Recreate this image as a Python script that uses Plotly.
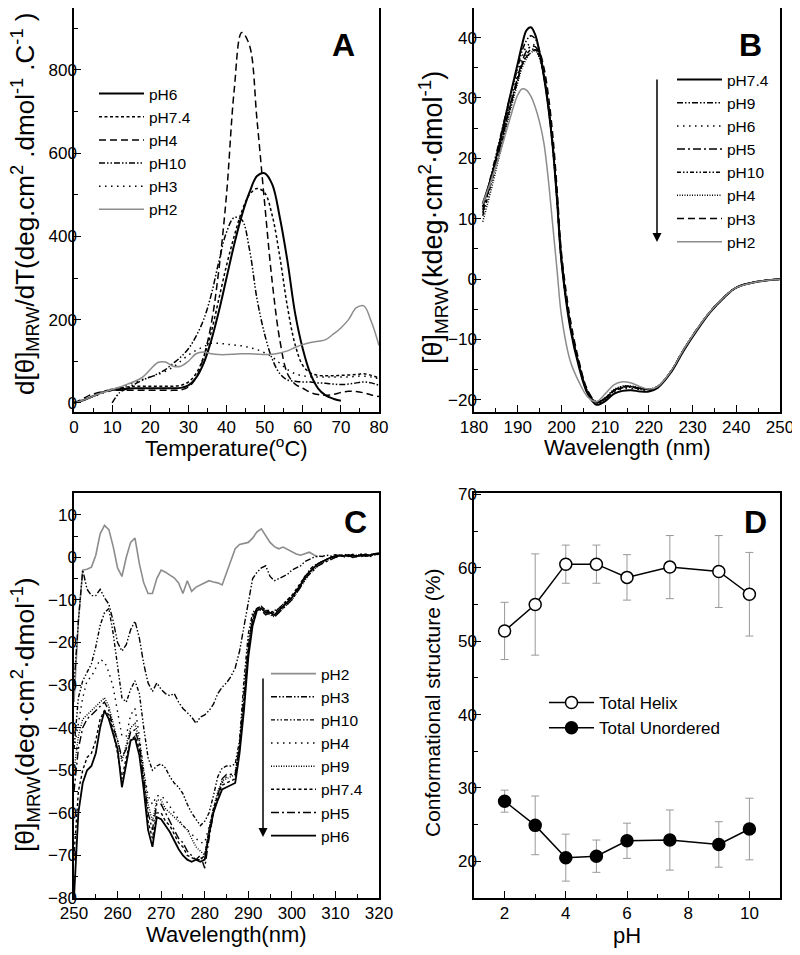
import plotly.graph_objects as go

FONT = "Liberation Sans, Arial, Helvetica, sans-serif"
BLACK = "#000000"
GRAY = "#8c8c8c"
# The page body adds an 8px margin; the figure is sized/positioned to compensate.
OFF = 8
W, H = 800 - OFF, 955 - OFF

# ---------------- Panel A data ----------------
temp_A = [0, 2, 4, 6, 8, 10, 12, 14, 16, 18, 20, 22, 24, 26, 28, 30, 32, 34, 36, 38,
          40, 42, 44, 46, 48, 50, 52, 54, 56, 58, 60, 62, 64, 66, 68, 70, 72, 74, 76, 78, 80]
A_pH6 = [0, 5, 12, 20, 27, 31, 33, 34, 35, 35, 35, 35, 35, 35, 36, 42, 60, 95, 150, 220,
         300, 380, 450, 505, 545, 552, 525, 445, 340, 215, 130, 70, 35, 18, 10, 5,
         None, None, None, None, None]
A_pH74 = [0, 5, 12, 20, 28, 33, 36, 38, 40, 40, 40, 40, 40, 40, 42, 50, 70, 110, 170, 250,
          330, 400, 460, 500, 515, 505, 450, 350, 230, 140, 90, 72, 66, 65, 65, 66, 67, 68, 70, 66, 60]
A_pH4 = [0, 8, 18, 24, 28, 30, 30, 30, 30, 30, 30, 30, 30, 30, 31, 38, 60, 110, 190, 320,
         500, 750, 890, 860, 680, 480, 290, 150, 70, 45, 35, 25, 20, 18, 20, 25, 28, 27, 24, 19, 15]
A_pH10 = [None, None, None, None, None, 0, 25, 35, 45, 55, 62, 70, 80, 95, 110, 130, 160, 200, 260, 340,
          410, 445, 440, 370, 250, 165, 105, 70, 55, 52, 50, 50, 48, 47, 45, 44, 45, 48, 50, 48, 42]
A_pH3 = [0, 5, 12, 18, 25, 30, 36, 42, 50, 56, 62, 68, 76, 86, 100, 115, 126, 135, 143, 143,
         141, 139, 137, 133, 128, 120, 110, 95, 80, 70, 65, 63, 62, 62, 62, 62, 62, 64, 64, 62, 58]
A_pH2 = [0, 5, 12, 20, 26, 32, 38, 45, 52, 62, 80, 97, 98, 88, 88, 100, 118, 122, 118, 116,
         116, 117, 118, 118, 117, 116, 117, 120, 125, 133, 140, 145, 148, 152, 165, 180, 200, 228, 233, 195, 138]

# ---------------- Panel B data (kdeg) ----------------
wl_B = [182, 184, 186, 188, 190, 191, 192, 193, 194, 195, 196, 197, 198, 199, 200, 202, 204, 206,
        208, 210, 212, 214, 216, 218, 220, 222, 225, 228, 231, 234, 237, 240, 245, 250]
B_pH74 = [12.5, 17, 23, 29.5, 35.7, 38.8, 41.2, 41.7, 40.5, 37.5, 33.5, 28.5, 22, 13, 3, -8, -14.5, -19,
          -20.8, -20.2, -19, -18.5, -18.4, -18.6, -18.6, -18, -15.5, -11.8, -8.5, -5.5, -3.2, -1.4, -0.4, 0]
B_pH9 = [11.5, 17.5, 23.5, 29.5, 35, 37.8, 39.5, 40.3, 39.8, 37.8, 34, 29, 22.5, 13.5, 3.5, -7.5, -14, -18.7,
         -20.5, -19.8, -18.6, -18, -17.9, -18.2, -18.3, -17.8, -15.3, -11.6, -8.3, -5.4, -3.1, -1.4, -0.4, 0]
B_pH6 = [12, 17, 22.5, 28.5, 34, 36.8, 38.5, 39, 38.6, 37, 33.5, 28.5, 22, 13, 3, -7.8, -14.2, -18.8,
         -20.6, -19.9, -18.8, -18.2, -18.1, -18.3, -18.4, -17.9, -15.4, -11.7, -8.4, -5.5, -3.2, -1.4, -0.4, 0]
B_pH5 = [11, 16.5, 22, 28, 33.5, 36, 37.8, 38.5, 38.5, 37.2, 34, 29, 22.5, 13.5, 3.5, -7.5, -14, -18.6,
         -20.4, -19.7, -18.4, -17.8, -17.8, -18.1, -18.2, -17.8, -15.3, -11.6, -8.3, -5.4, -3.1, -1.4, -0.4, 0]
B_pH10 = [10.5, 16, 21.5, 27.5, 33, 35.5, 37.2, 38, 38, 36.8, 33.5, 28.5, 22, 13, 3, -7.7, -14.1, -18.7,
          -20.4, -19.8, -18.5, -17.9, -17.8, -18.1, -18.2, -17.8, -15.4, -11.7, -8.4, -5.5, -3.2, -1.4, -0.4, 0]
B_pH4 = [9.5, 15, 21, 27, 32.5, 35, 36.5, 37.5, 37.8, 36.5, 33.5, 28.5, 22, 13, 3, -7.6, -14, -18.6,
         -20.3, -19.6, -18.3, -17.7, -17.7, -18, -18.2, -17.8, -15.3, -11.6, -8.3, -5.4, -3.1, -1.4, -0.4, 0]
B_pH3 = [12, 17, 22.5, 28, 33, 35.5, 36.8, 37.5, 38, 37.5, 35, 30.5, 24, 15, 4.5, -6.5, -13.5, -18.4,
         -20.3, -19.7, -18.4, -17.8, -17.8, -18.1, -18.2, -17.8, -15.4, -11.6, -8.3, -5.4, -3.1, -1.4, -0.4, 0]
B_pH2 = [12.5, 16.5, 21, 26, 30.5, 31.5, 31.3, 30.3, 28.5, 26, 22.5, 16.5, 9, 1.5, -6, -13.5, -17, -19.5,
         -20.3, -19, -17.5, -17, -17.2, -17.8, -18.2, -17.8, -15.3, -11.6, -8.3, -5.4, -3.1, -1.4, -0.4, 0]

# ---------------- Panel C data (1 nm steps, 250..320) ----------------
wl_C = list(range(250, 321))
C_pH2 = [-34, -15, -3, -2.8, -2.3, 0.5, 5.5, 7.5, 6.5, 2.5,
         -2.5, -4.5, 0, 3.5, 4.5, -1.5, -6, -8.5, -8.5, -5,
         -3, -3.5, -4.2, -4.8, -6, -8.5, -5.5, -8, -7, -6.5,
         -6, -5.5, -5.8, -6, -6.5, -3.5, -0.8, 2, 3, 3.2,
         3.5, 4.5, 6, 6.7, 5, 3.5, 2.5, 2, 2.4, 1.8,
         1.2, 0.8, 0.5, 0.8, 1.2, 0.6, 0.1, None, None, None,
         None, None, None, None, None, None, None, None, None, None, None]
C_pH3 = [-30, -15, -3, -7.5, -9, -9, -7.5, -9.5, -11, -15,
         -20, -22, -20.5, -17, -15, -19, -25, -29.5, -31.5, -29.5,
         -31, -32, -32.5, -32, -34, -35.5, -36.5, -37.5, -39, -37.5,
         -37, -36, -34.5, -32, -30.5, -29.5, -28, -26, -22, -16,
         -10, -5, -3.5, -2.5, -2, -4.5, -5.5, -5, -4.5, -4,
         -3, -2.5, -2, -1, -0.5, 0, 0.3, 0.2, 0.5, 0.3,
         0.6, 0.2, 0.5, 0.4, 0.6, 0.3, 0.5, 0.7, 0.4, 0.6, 0.8]
C_pH10 = [-45, -33, -29, -27, -25, -21, -16, -13, -12, -18,
          -26, -33, -34, -31, -29, -32, -40, -47, -50, -49,
          -48.5, -49.5, -51.5, -53, -54, -55.5, -58, -60, -61.5, -63,
          -62, -60, -56, -51.5, -49.5, -49, -49, -48.5, -43, -29,
          -18, -13, -12, -11.5, -12.5, -13, -12.5, -12, -11, -10,
          -9, -8, -6.5, -5, -3, -2, -1.5, -1, -0.5, -0.2,
          0, 0.4, 0.2, 0.6, 0.4, 0.3, 0.7, 0.5, 0.3, 0.8, 0.6]
C_pH4 = [-45, -39, -33, -29, -28, -26, -24, -24.5, -27, -30.5,
         -36, -42, -42, -37, -35.5, -42, -50, -56, -58, -56,
         -56, -57, -58.5, -60, -61.5, -63, -64, -65, -66, -67,
         -67, -63, -59, -55.5, -53, -51.5, -51, -50.5, -44, -32,
         -20, -14, -12, -12, -12.5, -13, -13, -12.5, -11.5, -10.5,
         -9.5, -8, -6.5, -5, -3.5, -2.5, -1.5, -1, -0.5, 0,
         0.3, 0.1, 0.5, 0.3, 0.6, 0.2, 0.5, 0.4, 0.8, 0.5, 1]
C_pH9 = [-50, -42, -38, -37, -36, -35, -34, -33, -35, -39,
         -43, -48, -44, -40, -39, -43, -50, -58, -62, -57,
         -57, -59, -60, -61, -62, -63, -64, -66, -68, -69,
         -70, -64, -59, -55, -52.5, -52, -51.5, -51, -44, -34,
         -22, -15, -12, -12, -13, -13.5, -14, -13, -12, -11,
         -10, -8.5, -7, -5.5, -4, -3, -2, -1.3, -0.8, -0.3,
         0.2, 0.4, 0.1, 0.6, 0.3, 0.5, 0.8, 0.2, 0.5, 0.7, 1]
C_pH74 = [-70, -55, -50, -47, -46, -43, -38, -36, -37, -41,
          -46, -52, -47, -43, -42, -45, -53, -62, -66, -60,
          -60, -62, -63, -65, -67, -68, -70, -70.5, -71, -71,
          -70, -64, -59, -56, -53.5, -53, -52.5, -52, -45, -35,
          -22, -15, -12, -11.5, -12.5, -12.5, -13, -12, -11, -10,
          -9, -7.5, -6, -4.5, -3.5, -2.5, -1.5, -1, -0.5, 0,
          0.5, 0.2, 0.6, 0.3, 0.7, 0.4, 0.2, 0.6, 0.4, 0.9, 0.7]
C_pH5 = [-55, -45, -40, -38, -37, -36, -35, -34, -36, -40,
         -43, -47, -45, -41, -40.5, -44, -52, -60, -64, -58,
         -58, -60, -62, -64, -66, -67, -69, -70, -71, -70,
         -73, -66, -60, -56, -52, -51, -51, -51, -44, -33,
         -21, -14, -12, -12.5, -13.5, -13, -14, -13, -12, -11,
         -10, -8.5, -7, -5, -4, -3, -2, -1.5, -1, -0.5,
         0, 0.3, 0.8, 0.2, 0.5, 0, 0.5, 0.7, 0.2, 0.6, 0.8]
C_pH6 = [-80, -60, -53, -50, -49, -46, -40, -36, -38, -41.5,
         -45, -54, -48, -43, -42.5, -46.5, -54.5, -64, -68, -61,
         -61.5, -63, -64.5, -66.5, -68.5, -70, -71, -71.5, -71, -71.5,
         -71, -65, -60, -57, -54.5, -54, -53.5, -53, -46, -36,
         -23.5, -16, -12.5, -12, -13, -13, -13.5, -12.5, -11.5, -10.5,
         -9.5, -8, -6.5, -4.5, -3.5, -2.5, -1.5, -1, -0.5, 0,
         0.3, 0.5, 0.3, 0.5, 0, 0.2, 0.5, 0.3, 0.6, 0.8, 1]

# ---------------- Panel D data ----------------
pH_D = [2, 3, 4, 5, 6, 7.4, 9, 10]
helix = [51.4, 55.0, 60.5, 60.5, 58.7, 60.1, 59.5, 56.4]
helix_err = [3.9, 6.9, 2.6, 2.6, 3.1, 4.3, 4.9, 5.7]
unord = [28.2, 24.9, 20.5, 20.7, 22.8, 22.9, 22.3, 24.4]
unord_err = [1.5, 4.0, 3.2, 2.2, 2.4, 4.1, 3.1, 4.2]

# ---------------- dash styles ----------------
SOLID = "solid"
DASH = "7px,4px"
SHORT = "3px,2.5px"
SPDOT = "1.5px,4.5px"
DDOT = "1px,1.5px"
DASHDOT = "8px,3px,2px,3px"
DDD = "6px,2px,1.5px,2px,1.5px,2px"
DDD2 = "4px,2px,1.5px,2px,1.5px,2px"

fig = go.Figure()


def add(x, y, name, dash, color, width, xa, ya, legend, shape="linear"):
    fig.add_trace(go.Scatter(
        x=x, y=y, name=name, mode="lines",
        line=dict(color=color, width=width, dash=dash, shape=shape),
        xaxis=xa, yaxis=ya, legend=legend, connectgaps=False))


# Panel A
for y, n, d, c, w in [(A_pH6, "pH6", SOLID, BLACK, 2), (A_pH74, "pH7.4", SHORT, BLACK, 1.5),
                      (A_pH4, "pH4", DASH, BLACK, 1.5), (A_pH10, "pH10", DDD, BLACK, 1.5),
                      (A_pH3, "pH3", SPDOT, BLACK, 1.5), (A_pH2, "pH2", SOLID, GRAY, 1.5)]:
    add(temp_A, y, n, d, c, w, "x", "y", "legend", "spline")

# Panel B
for y, n, d, c, w in [(B_pH74, "pH7.4", SOLID, BLACK, 2), (B_pH9, "pH9", DDD, BLACK, 1.5),
                      (B_pH6, "pH6", SPDOT, BLACK, 1.5), (B_pH5, "pH5", DASHDOT, BLACK, 1.5),
                      (B_pH10, "pH10", DDD2, BLACK, 1.5), (B_pH4, "pH4", DDOT, BLACK, 1.5),
                      (B_pH3, "pH3", DASH, BLACK, 1.5), (B_pH2, "pH2", SOLID, GRAY, 1.5)]:
    add(wl_B, y, n, d, c, w, "x2", "y2", "legend2", "spline")

# Panel C
for y, n, d, c, w in [(C_pH2, "pH2", SOLID, GRAY, 1.6), (C_pH3, "pH3", DDD, BLACK, 1.4),
                      (C_pH10, "pH10", DDD2, BLACK, 1.4), (C_pH4, "pH4", SPDOT, BLACK, 1.4),
                      (C_pH9, "pH9", DDOT, BLACK, 1.4), (C_pH74, "pH7.4", SHORT, BLACK, 1.4),
                      (C_pH5, "pH5", DASHDOT, BLACK, 1.4), (C_pH6, "pH6", SOLID, BLACK, 1.8)]:
    add(wl_C, y, n, d, c, w, "x3", "y3", "legend3")

# Panel D
fig.add_trace(go.Scatter(
    x=pH_D, y=helix, name="Total Helix", mode="lines+markers",
    line=dict(color=BLACK, width=1.5),
    marker=dict(symbol="circle", size=12, color="white", line=dict(color=BLACK, width=1.5)),
    error_y=dict(type="data", array=helix_err, color="#999999", thickness=1, width=4),
    xaxis="x4", yaxis="y4", legend="legend4"))
fig.add_trace(go.Scatter(
    x=pH_D, y=unord, name="Total Unordered", mode="lines+markers",
    line=dict(color=BLACK, width=1.5),
    marker=dict(symbol="circle", size=12, color=BLACK, line=dict(color=BLACK, width=1.5)),
    error_y=dict(type="data", array=unord_err, color="#999999", thickness=1, width=4),
    xaxis="x4", yaxis="y4", legend="legend4"))


def px2x(px):
    return min(1.0, max(0.0, (px - OFF) / W))


def px2y(py):
    return min(1.0, max(0.0, 1 - (py - OFF) / H))


def axis(domain, anchor, rng, dtick, minor_dtick, standoff):
    return dict(domain=domain, anchor=anchor, range=rng, dtick=dtick, automargin=False,
                showgrid=False, zeroline=False, showline=True, mirror=True,
                linecolor=BLACK, linewidth=1.5, ticks="inside", ticklen=7, tickwidth=1.2,
                tickcolor=BLACK, tickfont=dict(family=FONT, size=17, color=BLACK),
                ticklabelstandoff=standoff,
                minor=dict(dtick=minor_dtick, ticks="inside", ticklen=4, tickwidth=1.2,
                           tickcolor=BLACK, showgrid=False))


xA = [px2x(74), px2x(379)]
xB = [px2x(474), px2x(780)]
yTop = [px2y(412), px2y(8)]
yBot = [px2y(898), px2y(493)]

leg_common = dict(xanchor="left", yanchor="top", bgcolor="rgba(0,0,0,0)",
                  font=dict(family=FONT, size=15.5, color=BLACK), itemwidth=45,
                  tracegroupgap=0, borderwidth=0)

fig.update_layout(
    width=W, height=H, margin=dict(l=0, r=0, t=0, b=0, autoexpand=False),
    paper_bgcolor="white", plot_bgcolor="white",
    font=dict(family=FONT, color=BLACK),
    xaxis=axis(xA, "y", [0, 80], 10, 5, -1),
    yaxis=axis(yTop, "x", [-22, 949], 200, 100, -8),
    xaxis2=axis(xB, "y2", [180, 250], 10, 5, -1),
    yaxis2=axis(yTop, "x2", [-22, 44.9], 10, 5, -8),
    xaxis3=axis(xA, "y3", [250, 320], 10, 5, -1),
    yaxis3=axis(yBot, "x3", [-80, 15.1], 10, 5, -8),
    xaxis4=axis(xB, "y4", [1, 11], 2, 1, -1),
    yaxis4=axis(yBot, "x4", [15, 70.2], 10, 5, -8),
    legend=dict(x=px2x(94), y=px2y(77), **leg_common),
    legend2=dict(x=px2x(672), y=px2y(63), **leg_common),
    legend3=dict(x=px2x(266), y=px2y(657), **leg_common),
    legend4=dict(x=px2x(544), y=px2y(685), **{**leg_common, "font": dict(family=FONT, size=17, color=BLACK)}),
)

ann = []
# panel letters
for t, x, y in [("A", 343, 45), ("B", 750, 45), ("C", 355, 522), ("D", 755, 522)]:
    ann.append(dict(text="<b>%s</b>" % t, x=px2x(x), y=px2y(y), xref="paper", yref="paper",
                    showarrow=False, font=dict(family=FONT, size=32, color=BLACK),
                    xanchor="center", yanchor="middle"))
# axis titles
xt = [("Temperature(<sup>o</sup>C)", 227, 447), ("Wavelength (nm)", 627, 447),
      ("Wavelength(nm)", 227, 934), ("pH", 627, 935)]
for t, x, y in xt:
    ann.append(dict(text=t, x=px2x(x), y=px2y(y), xref="paper", yref="paper", showarrow=False,
                    font=dict(family=FONT, size=22, color=BLACK), xanchor="center", yanchor="middle"))
yt = [("d[θ]<sub>MRW</sub>/dT(deg.cm<sup>2</sup> .dmol<sup>-1</sup> .C<sup>-1</sup> )", 25, 204, 26),
      ("[θ]<sub>MRW</sub>(kdeg·cm<sup>2</sup>·dmol<sup>-1</sup>)", 433, 218, 27),
      ("[θ]<sub>MRW</sub>(deg·cm<sup>2</sup>·dmol<sup>-1</sup>)", 25, 715, 26.5),
      ("Conformational structure (%)", 432, 703, 21)]
for t, x, y, s in yt:
    ann.append(dict(text=t, x=px2x(x), y=px2y(y), xref="paper", yref="paper", showarrow=False,
                    textangle=-90, font=dict(family=FONT, size=s, color=BLACK),
                    xanchor="center", yanchor="middle"))
# arrows
for x, ytip, length in [(657, 242, 164), (263, 837, 160)]:
    ann.append(dict(text="", x=px2x(x), y=px2y(ytip), xref="paper", yref="paper",
                    showarrow=True, ax=0, ay=-length, axref="pixel", ayref="pixel",
                    arrowhead=2, arrowsize=1.2, arrowwidth=1.5, arrowcolor=BLACK))
fig.update_layout(annotations=ann)

fig.write_html("out.html")
